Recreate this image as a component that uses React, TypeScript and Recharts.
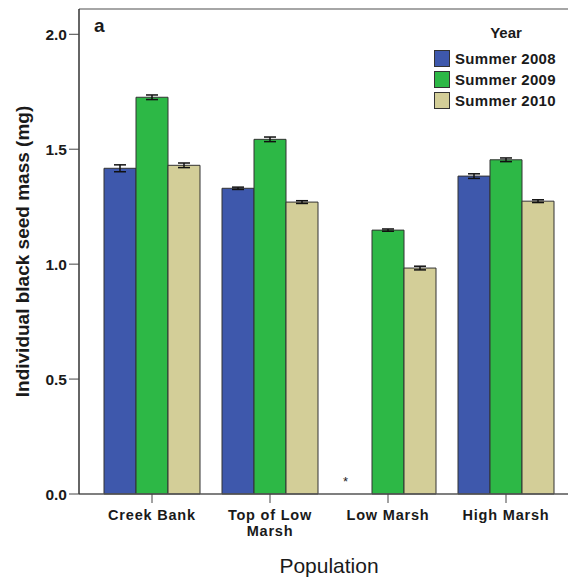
import React from 'react';
import {
  BarChart,
  Bar,
  XAxis,
  YAxis,
  ErrorBar,
  ReferenceLine,
} from 'recharts';

const FONT = '"Liberation Sans", Arial, sans-serif';

const POPULATIONS = ['Creek Bank', 'Top of Low Marsh', 'Low Marsh', 'High Marsh'];
const SUMMER_2008 = [1.417, 1.33, null, 1.383];
const SUMMER_2009 = [1.726, 1.543, 1.148, 1.454];
const SUMMER_2010 = [1.43, 1.27, 0.983, 1.274];
const ERR_2008 = [0.015, 0.005, 0, 0.01];
const ERR_2009 = [0.01, 0.01, 0.005, 0.008];
const ERR_2010 = [0.01, 0.006, 0.008, 0.006];

const Y_TICKS = [0, 0.5, 1.0, 1.5, 2.0];
const Y_MAX = 2.11;

const SERIES = [
  { key: 'y2008', err: 'e2008', name: 'Summer 2008', color: '#3e58ac' },
  { key: 'y2009', err: 'e2009', name: 'Summer 2009', color: '#2db846' },
  { key: 'y2010', err: 'e2010', name: 'Summer 2010', color: '#d3ce98' },
];

const data = POPULATIONS.map((pop, i) => ({
  pop,
  y2008: SUMMER_2008[i],
  y2009: SUMMER_2009[i],
  y2010: SUMMER_2010[i],
  e2008: ERR_2008[i],
  e2009: ERR_2009[i],
  e2010: ERR_2010[i],
}));

// category labels wrap like the original ("Top of Low" / "Marsh")
const wrapLabel = (label: string) =>
  label === 'Top of Low Marsh' ? ['Top of Low', 'Marsh'] : [label];

const PopTick = (props: any) => {
  const { x, y, payload } = props;
  const lines = wrapLabel(payload.value);
  return (
    <text
      x={x}
      y={y + 15}
      textAnchor="middle"
      fontFamily={FONT}
      fontSize={14.5}
      fontWeight="bold"
      letterSpacing={0.8}
      fill="#1a1a1a"
    >
      {lines.map((l, i) => (
        <tspan key={l} x={x} dy={i === 0 ? 0 : 16}>
          {l}
        </tspan>
      ))}
    </text>
  );
};

const App: React.FC = () => {
  return (
    <div
      style={{
        position: 'absolute',
        left: 0,
        top: 0,
        width: 568,
        height: 578,
        overflow: 'hidden',
        background: '#fff',
        fontFamily: FONT,
      }}
    >
      <BarChart
        width={600}
        height={578}
        data={data}
        margin={{ top: 9, right: 21, left: 0, bottom: 0 }}
        barCategoryGap={11}
        barGap={0}
      >
        <XAxis
          dataKey="pop"
          height={84}
          padding={{ left: 14, right: 14 }}
          tickLine={{ stroke: '#444' }}
          tickSize={9}
          axisLine={{ stroke: '#555', strokeWidth: 1.5 }}
          tick={<PopTick />}
          interval={0}
          label={{
            value: 'Population',
            position: 'insideBottom',
            offset: 5,
            fontFamily: FONT,
            fontSize: 21,
            fill: '#1a1a1a',
          }}
        />
        <YAxis
          width={79}
          domain={[0, Y_MAX]}
          ticks={Y_TICKS}
          tickFormatter={(v: number) => v.toFixed(1)}
          tickSize={10}
          tickLine={{ stroke: '#444' }}
          axisLine={{ stroke: '#333', strokeWidth: 1.5 }}
          tick={{ fontFamily: FONT, fontSize: 15.5, fontWeight: 'bold', fill: '#1a1a1a' }}
          label={{
            value: 'Individual black seed mass (mg)',
            angle: -90,
            position: 'insideLeft',
            offset: 22,
            style: { textAnchor: 'middle' },
            fontFamily: FONT,
            fontSize: 19,
            fontWeight: 'bold',
            fill: '#1a1a1a',
          }}
        />
        <ReferenceLine y={Y_MAX} stroke="#888" strokeWidth={1.5} />
        {SERIES.map((s) => (
          <Bar
            key={s.key}
            dataKey={s.key}
            name={s.name}
            fill={s.color}
            stroke="#333"
            strokeWidth={1}
            barSize={32}
            isAnimationActive={false}
          >
            <ErrorBar dataKey={s.err} width={6} stroke="#111" strokeWidth={1.5} />
          </Bar>
        ))}
      </BarChart>

      {/* panel letter */}
      <div
        style={{
          position: 'absolute',
          left: 94,
          top: 16,
          fontSize: 19,
          fontWeight: 'bold',
          color: '#1a1a1a',
          lineHeight: '20px',
        }}
      >
        a
      </div>

      {/* missing 2008 Low Marsh sample */}
      <div
        style={{
          position: 'absolute',
          left: 343,
          top: 475,
          fontSize: 13,
          color: '#222',
          lineHeight: '14px',
        }}
      >
        *
      </div>

      {/* legend */}
      <div style={{ position: 'absolute', left: 434, top: 23 }}>
        <div
          style={{
            fontSize: 15,
            fontWeight: 'bold',
            color: '#1a1a1a',
            textAlign: 'center',
            marginLeft: 22,
            width: 100,
            lineHeight: '20px',
            marginBottom: 5,
          }}
        >
          Year
        </div>
        {SERIES.map((s) => (
          <div
            key={s.key}
            style={{ display: 'flex', alignItems: 'center', height: 21 }}
          >
            <div
              style={{
                width: 14,
                height: 15,
                background: s.color,
                border: '1px solid #333',
                marginRight: 5,
              }}
            />
            <span
              style={{
                fontSize: 15,
                fontWeight: 'bold',
                color: '#1a1a1a',
                letterSpacing: 0.3,
              }}
            >
              {s.name}
            </span>
          </div>
        ))}
      </div>
    </div>
  );
};

export default App;
